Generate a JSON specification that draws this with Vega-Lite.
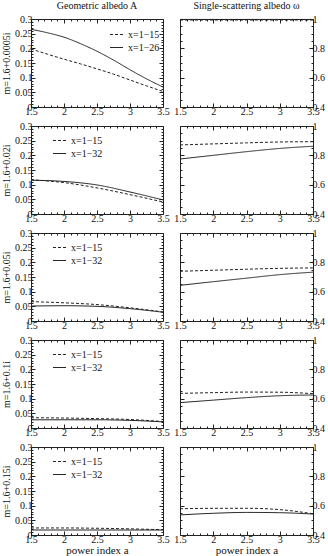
{
"$schema":"https://vega.github.io/schema/vega-lite/v6.json",
"padding":{"left":1,"right":0,"top":0,"bottom":0},
"background":"white",
"config":{
 "view":{"stroke":"#222","strokeWidth":1},
 "axis":{"domain":false,"grid":false,"tickColor":"#222","labelFont":"Liberation Serif","labelFontSize":10,"labelColor":"#111","titleFont":"Liberation Serif","titleFontSize":10,"titleFontWeight":"normal","titleColor":"#111","labelFlush":false,"labelOverlap":false,"labelBound":false},
 "legend":{"labelFont":"Liberation Serif","labelFontSize":10,"labelColor":"#111"}
},
"data":{"values":[
{"m":"0.0005","q":"A","s":"x=1−15","a":1.5,"v":0.198},{"m":"0.0005","q":"A","s":"x=1−15","a":1.75,"v":0.180},{"m":"0.0005","q":"A","s":"x=1−15","a":2,"v":0.163},{"m":"0.0005","q":"A","s":"x=1−15","a":2.25,"v":0.147},{"m":"0.0005","q":"A","s":"x=1−15","a":2.5,"v":0.130},{"m":"0.0005","q":"A","s":"x=1−15","a":2.75,"v":0.112},{"m":"0.0005","q":"A","s":"x=1−15","a":3,"v":0.092},{"m":"0.0005","q":"A","s":"x=1−15","a":3.25,"v":0.072},{"m":"0.0005","q":"A","s":"x=1−15","a":3.5,"v":0.053},
{"m":"0.0005","q":"A","s":"x=1−26","a":1.5,"v":0.265},{"m":"0.0005","q":"A","s":"x=1−26","a":1.75,"v":0.253},{"m":"0.0005","q":"A","s":"x=1−26","a":2,"v":0.238},{"m":"0.0005","q":"A","s":"x=1−26","a":2.25,"v":0.216},{"m":"0.0005","q":"A","s":"x=1−26","a":2.5,"v":0.190},{"m":"0.0005","q":"A","s":"x=1−26","a":2.75,"v":0.160},{"m":"0.0005","q":"A","s":"x=1−26","a":3,"v":0.127},{"m":"0.0005","q":"A","s":"x=1−26","a":3.25,"v":0.096},{"m":"0.0005","q":"A","s":"x=1−26","a":3.5,"v":0.068},
{"m":"0.0005","q":"w","s":"x=1−15","a":1.5,"v":0.993},{"m":"0.0005","q":"w","s":"x=1−15","a":2.5,"v":0.993},{"m":"0.0005","q":"w","s":"x=1−15","a":3.5,"v":0.993},
{"m":"0.0005","q":"w","s":"x=1−26","a":1.5,"v":0.997},{"m":"0.0005","q":"w","s":"x=1−26","a":2.5,"v":0.997},{"m":"0.0005","q":"w","s":"x=1−26","a":3.5,"v":0.997},
{"m":"0.02","q":"A","s":"x=1−15","a":1.5,"v":0.117},{"m":"0.02","q":"A","s":"x=1−15","a":2,"v":0.107},{"m":"0.02","q":"A","s":"x=1−15","a":2.5,"v":0.089},{"m":"0.02","q":"A","s":"x=1−15","a":3,"v":0.066},{"m":"0.02","q":"A","s":"x=1−15","a":3.5,"v":0.041},
{"m":"0.02","q":"A","s":"x=1−32","a":1.5,"v":0.115},{"m":"0.02","q":"A","s":"x=1−32","a":2,"v":0.111},{"m":"0.02","q":"A","s":"x=1−32","a":2.5,"v":0.099},{"m":"0.02","q":"A","s":"x=1−32","a":3,"v":0.075},{"m":"0.02","q":"A","s":"x=1−32","a":3.5,"v":0.048},
{"m":"0.02","q":"w","s":"x=1−15","a":1.5,"v":0.871},{"m":"0.02","q":"w","s":"x=1−15","a":2,"v":0.878},{"m":"0.02","q":"w","s":"x=1−15","a":2.5,"v":0.885},{"m":"0.02","q":"w","s":"x=1−15","a":3,"v":0.891},{"m":"0.02","q":"w","s":"x=1−15","a":3.5,"v":0.893},
{"m":"0.02","q":"w","s":"x=1−32","a":1.5,"v":0.775},{"m":"0.02","q":"w","s":"x=1−32","a":2,"v":0.800},{"m":"0.02","q":"w","s":"x=1−32","a":2.5,"v":0.825},{"m":"0.02","q":"w","s":"x=1−32","a":3,"v":0.847},{"m":"0.02","q":"w","s":"x=1−32","a":3.5,"v":0.862},
{"m":"0.05","q":"A","s":"x=1−15","a":1.5,"v":0.066},{"m":"0.05","q":"A","s":"x=1−15","a":2,"v":0.062},{"m":"0.05","q":"A","s":"x=1−15","a":2.5,"v":0.056},{"m":"0.05","q":"A","s":"x=1−15","a":3,"v":0.045},{"m":"0.05","q":"A","s":"x=1−15","a":3.5,"v":0.031},
{"m":"0.05","q":"A","s":"x=1−32","a":1.5,"v":0.051},{"m":"0.05","q":"A","s":"x=1−32","a":2,"v":0.052},{"m":"0.05","q":"A","s":"x=1−32","a":2.5,"v":0.050},{"m":"0.05","q":"A","s":"x=1−32","a":3,"v":0.042},{"m":"0.05","q":"A","s":"x=1−32","a":3.5,"v":0.030},
{"m":"0.05","q":"w","s":"x=1−15","a":1.5,"v":0.739},{"m":"0.05","q":"w","s":"x=1−15","a":2,"v":0.746},{"m":"0.05","q":"w","s":"x=1−15","a":2.5,"v":0.753},{"m":"0.05","q":"w","s":"x=1−15","a":3,"v":0.759},{"m":"0.05","q":"w","s":"x=1−15","a":3.5,"v":0.762},
{"m":"0.05","q":"w","s":"x=1−32","a":1.5,"v":0.643},{"m":"0.05","q":"w","s":"x=1−32","a":2,"v":0.668},{"m":"0.05","q":"w","s":"x=1−32","a":2.5,"v":0.692},{"m":"0.05","q":"w","s":"x=1−32","a":3,"v":0.716},{"m":"0.05","q":"w","s":"x=1−32","a":3.5,"v":0.733},
{"m":"0.1","q":"A","s":"x=1−15","a":1.5,"v":0.035},{"m":"0.1","q":"A","s":"x=1−15","a":2,"v":0.034},{"m":"0.1","q":"A","s":"x=1−15","a":2.5,"v":0.032},{"m":"0.1","q":"A","s":"x=1−15","a":3,"v":0.029},{"m":"0.1","q":"A","s":"x=1−15","a":3.5,"v":0.022},
{"m":"0.1","q":"A","s":"x=1−32","a":1.5,"v":0.028},{"m":"0.1","q":"A","s":"x=1−32","a":2,"v":0.028},{"m":"0.1","q":"A","s":"x=1−32","a":2.5,"v":0.028},{"m":"0.1","q":"A","s":"x=1−32","a":3,"v":0.026},{"m":"0.1","q":"A","s":"x=1−32","a":3.5,"v":0.021},
{"m":"0.1","q":"w","s":"x=1−15","a":1.5,"v":0.636},{"m":"0.1","q":"w","s":"x=1−15","a":2,"v":0.641},{"m":"0.1","q":"w","s":"x=1−15","a":2.5,"v":0.645},{"m":"0.1","q":"w","s":"x=1−15","a":3,"v":0.644},{"m":"0.1","q":"w","s":"x=1−15","a":3.5,"v":0.634},
{"m":"0.1","q":"w","s":"x=1−32","a":1.5,"v":0.573},{"m":"0.1","q":"w","s":"x=1−32","a":2,"v":0.590},{"m":"0.1","q":"w","s":"x=1−32","a":2.5,"v":0.607},{"m":"0.1","q":"w","s":"x=1−32","a":3,"v":0.620},{"m":"0.1","q":"w","s":"x=1−32","a":3.5,"v":0.625},
{"m":"0.15","q":"A","s":"x=1−15","a":1.5,"v":0.024},{"m":"0.15","q":"A","s":"x=1−15","a":2,"v":0.024},{"m":"0.15","q":"A","s":"x=1−15","a":2.5,"v":0.023},{"m":"0.15","q":"A","s":"x=1−15","a":3,"v":0.021},{"m":"0.15","q":"A","s":"x=1−15","a":3.5,"v":0.018},
{"m":"0.15","q":"A","s":"x=1−32","a":1.5,"v":0.017},{"m":"0.15","q":"A","s":"x=1−32","a":2,"v":0.017},{"m":"0.15","q":"A","s":"x=1−32","a":2.5,"v":0.017},{"m":"0.15","q":"A","s":"x=1−32","a":3,"v":0.017},{"m":"0.15","q":"A","s":"x=1−32","a":3.5,"v":0.017},
{"m":"0.15","q":"w","s":"x=1−15","a":1.5,"v":0.579},{"m":"0.15","q":"w","s":"x=1−15","a":2,"v":0.582},{"m":"0.15","q":"w","s":"x=1−15","a":2.5,"v":0.582},{"m":"0.15","q":"w","s":"x=1−15","a":3,"v":0.573},{"m":"0.15","q":"w","s":"x=1−15","a":3.5,"v":0.545},
{"m":"0.15","q":"w","s":"x=1−32","a":1.5,"v":0.537},{"m":"0.15","q":"w","s":"x=1−32","a":2,"v":0.548},{"m":"0.15","q":"w","s":"x=1−32","a":2.5,"v":0.554},{"m":"0.15","q":"w","s":"x=1−32","a":3,"v":0.552},{"m":"0.15","q":"w","s":"x=1−32","a":3.5,"v":0.543}
]},
"columns":2,
"spacing":{"row":19,"column":17},
"bounds":"flush",
"resolve":{"scale":{"x":"independent","y":"independent","strokeDash":"independent"},"legend":{"strokeDash":"independent"},"axis":{"x":"independent","y":"independent"}},
"concat":[
 {"width":132,"height":88,"title":{"text":"Geometric albedo A","fontSize":10,"font":"Liberation Serif","fontWeight":"normal","color":"#111","offset":3},
  "transform":[{"filter":"datum.m=='0.0005' && datum.q=='A'"}],
  "layer":[
   {"mark":{"type":"line","color":"#222","strokeWidth":1,"interpolate":"monotone"},
    "encoding":{
     "x":{"field":"a","type":"quantitative","scale":{"domain":[1.5,3.5],"nice":false,"zero":false},"axis":{"orient":"bottom","values":[1.5,1.6,1.7,1.8,1.9,2,2.1,2.2,2.3,2.4,2.5,2.6,2.7,2.8,2.9,3,3.1,3.2,3.3,3.4,3.5],"format":"~g","labelExpr":"abs(datum.value*2-round(datum.value*2))<0.001 ? datum.label : ''","tickSize":{"condition":{"test":"abs(datum.value*2-round(datum.value*2))<0.001","value":-4},"value":-2},"labelPadding":3,"title":null}},
     "y":{"field":"v","type":"quantitative","scale":{"domain":[0,0.3],"nice":false},"axis":{"orient":"left","values":[0,0.01,0.02,0.03,0.04,0.05,0.06,0.07,0.08,0.09,0.1,0.11,0.12,0.13,0.14,0.15,0.16,0.17,0.18,0.19,0.2,0.21,0.22,0.23,0.24,0.25,0.26,0.27,0.28,0.29,0.3],"format":"~g","labelExpr":"abs(datum.value*20-round(datum.value*20))<0.001 ? datum.label : ''","tickSize":{"condition":{"test":"abs(datum.value*20-round(datum.value*20))<0.001","value":-4},"value":-2},"labelPadding":3,"title":"m=1.6+0.0005i","titlePadding":3}},
     "strokeDash":{"field":"s","type":"nominal","scale":{"domain":["x=1−15","x=1−26"],"range":[[3,2],[1,0]]},"legend":{"orient":"none","legendX":78,"legendY":8,"title":null,"symbolType":"stroke","symbolStrokeColor":"#222","symbolStrokeWidth":1,"symbolSize":170,"rowPadding":-2,"labelOffset":4}}
    }},
   {"mark":{"type":"line","opacity":0,"strokeWidth":0,"color":"transparent"},
    "encoding":{
     "x":{"field":"a","type":"quantitative","axis":{"orient":"top","values":[1.5,1.6,1.7,1.8,1.9,2,2.1,2.2,2.3,2.4,2.5,2.6,2.7,2.8,2.9,3,3.1,3.2,3.3,3.4,3.5],"labels":false,"tickSize":{"condition":{"test":"abs(datum.value*2-round(datum.value*2))<0.001","value":-4},"value":-2},"title":null}},
     "y":{"field":"v","type":"quantitative","axis":{"orient":"right","values":[0,0.01,0.02,0.03,0.04,0.05,0.06,0.07,0.08,0.09,0.1,0.11,0.12,0.13,0.14,0.15,0.16,0.17,0.18,0.19,0.2,0.21,0.22,0.23,0.24,0.25,0.26,0.27,0.28,0.29,0.3],"labels":false,"tickSize":{"condition":{"test":"abs(datum.value*20-round(datum.value*20))<0.001","value":-4},"value":-2},"title":null}},
     "detail":{"field":"s"}
    }}
  ],
  "resolve":{"axis":{"x":"independent","y":"independent"}}
 },
 {"width":133,"height":88,"title":{"text":"Single-scattering albedo ω","fontSize":10,"font":"Liberation Serif","fontWeight":"normal","color":"#111","offset":3},
  "transform":[{"filter":"datum.m=='0.0005' && datum.q=='w'"}],
  "layer":[
   {"mark":{"type":"line","color":"#222","strokeWidth":1,"interpolate":"monotone"},
    "encoding":{
     "x":{"field":"a","type":"quantitative","scale":{"domain":[1.5,3.5],"nice":false,"zero":false},"axis":{"orient":"bottom","values":[1.5,1.6,1.7,1.8,1.9,2,2.1,2.2,2.3,2.4,2.5,2.6,2.7,2.8,2.9,3,3.1,3.2,3.3,3.4,3.5],"format":"~g","labelExpr":"abs(datum.value*2-round(datum.value*2))<0.001 ? datum.label : ''","tickSize":{"condition":{"test":"abs(datum.value*2-round(datum.value*2))<0.001","value":-4},"value":-2},"labelPadding":3,"title":null}},
     "y":{"field":"v","type":"quantitative","scale":{"domain":[0.4,1],"nice":false,"zero":false},"axis":{"orient":"right","values":[0.4,0.45,0.5,0.55,0.6,0.65,0.7,0.75,0.8,0.85,0.9,0.95,1],"format":"~g","labelExpr":"abs(datum.value*5-round(datum.value*5))<0.001 ? datum.label : ''","tickSize":{"condition":{"test":"abs(datum.value*5-round(datum.value*5))<0.001","value":-4},"value":-2},"labelPadding":3,"title":null}},
     "strokeDash":{"field":"s","type":"nominal","scale":{"domain":["x=1−15","x=1−26"],"range":[[3,2],[1,0]]},"legend":null}
    }},
   {"mark":{"type":"line","opacity":0,"strokeWidth":0,"color":"transparent"},
    "encoding":{
     "x":{"field":"a","type":"quantitative","axis":{"orient":"top","values":[1.5,1.6,1.7,1.8,1.9,2,2.1,2.2,2.3,2.4,2.5,2.6,2.7,2.8,2.9,3,3.1,3.2,3.3,3.4,3.5],"labels":false,"tickSize":{"condition":{"test":"abs(datum.value*2-round(datum.value*2))<0.001","value":-4},"value":-2},"title":null}},
     "y":{"field":"v","type":"quantitative","axis":{"orient":"left","values":[0.4,0.45,0.5,0.55,0.6,0.65,0.7,0.75,0.8,0.85,0.9,0.95,1],"labels":false,"tickSize":{"condition":{"test":"abs(datum.value*5-round(datum.value*5))<0.001","value":-4},"value":-2},"title":null}},
     "detail":{"field":"s"}
    }}
  ],
  "resolve":{"axis":{"x":"independent","y":"independent"}}
 },
 {"width":132,"height":88,
  "transform":[{"filter":"datum.m=='0.02' && datum.q=='A'"}],
  "layer":[
   {"mark":{"type":"line","color":"#222","strokeWidth":1,"interpolate":"monotone"},
    "encoding":{
     "x":{"field":"a","type":"quantitative","scale":{"domain":[1.5,3.5],"nice":false,"zero":false},"axis":{"orient":"bottom","values":[1.5,1.6,1.7,1.8,1.9,2,2.1,2.2,2.3,2.4,2.5,2.6,2.7,2.8,2.9,3,3.1,3.2,3.3,3.4,3.5],"format":"~g","labelExpr":"abs(datum.value*2-round(datum.value*2))<0.001 ? datum.label : ''","tickSize":{"condition":{"test":"abs(datum.value*2-round(datum.value*2))<0.001","value":-4},"value":-2},"labelPadding":3,"title":null}},
     "y":{"field":"v","type":"quantitative","scale":{"domain":[0,0.3],"nice":false},"axis":{"orient":"left","values":[0,0.01,0.02,0.03,0.04,0.05,0.06,0.07,0.08,0.09,0.1,0.11,0.12,0.13,0.14,0.15,0.16,0.17,0.18,0.19,0.2,0.21,0.22,0.23,0.24,0.25,0.26,0.27,0.28,0.29,0.3],"format":"~g","labelExpr":"abs(datum.value*20-round(datum.value*20))<0.001 ? datum.label : ''","tickSize":{"condition":{"test":"abs(datum.value*20-round(datum.value*20))<0.001","value":-4},"value":-2},"labelPadding":3,"title":"m=1.6+0.02i","titlePadding":3}},
     "strokeDash":{"field":"s","type":"nominal","scale":{"domain":["x=1−15","x=1−32"],"range":[[3,2],[1,0]]},"legend":{"orient":"none","legendX":21,"legendY":7,"title":null,"symbolType":"stroke","symbolStrokeColor":"#222","symbolStrokeWidth":1,"symbolSize":170,"rowPadding":-2,"labelOffset":4}}
    }},
   {"mark":{"type":"line","opacity":0,"strokeWidth":0,"color":"transparent"},
    "encoding":{
     "x":{"field":"a","type":"quantitative","axis":{"orient":"top","values":[1.5,1.6,1.7,1.8,1.9,2,2.1,2.2,2.3,2.4,2.5,2.6,2.7,2.8,2.9,3,3.1,3.2,3.3,3.4,3.5],"labels":false,"tickSize":{"condition":{"test":"abs(datum.value*2-round(datum.value*2))<0.001","value":-4},"value":-2},"title":null}},
     "y":{"field":"v","type":"quantitative","axis":{"orient":"right","values":[0,0.01,0.02,0.03,0.04,0.05,0.06,0.07,0.08,0.09,0.1,0.11,0.12,0.13,0.14,0.15,0.16,0.17,0.18,0.19,0.2,0.21,0.22,0.23,0.24,0.25,0.26,0.27,0.28,0.29,0.3],"labels":false,"tickSize":{"condition":{"test":"abs(datum.value*20-round(datum.value*20))<0.001","value":-4},"value":-2},"title":null}},
     "detail":{"field":"s"}
    }}
  ],
  "resolve":{"axis":{"x":"independent","y":"independent"}}
 },
 {"width":133,"height":88,
  "transform":[{"filter":"datum.m=='0.02' && datum.q=='w'"}],
  "layer":[
   {"mark":{"type":"line","color":"#222","strokeWidth":1,"interpolate":"monotone"},
    "encoding":{
     "x":{"field":"a","type":"quantitative","scale":{"domain":[1.5,3.5],"nice":false,"zero":false},"axis":{"orient":"bottom","values":[1.5,1.6,1.7,1.8,1.9,2,2.1,2.2,2.3,2.4,2.5,2.6,2.7,2.8,2.9,3,3.1,3.2,3.3,3.4,3.5],"format":"~g","labelExpr":"abs(datum.value*2-round(datum.value*2))<0.001 ? datum.label : ''","tickSize":{"condition":{"test":"abs(datum.value*2-round(datum.value*2))<0.001","value":-4},"value":-2},"labelPadding":3,"title":null}},
     "y":{"field":"v","type":"quantitative","scale":{"domain":[0.4,1],"nice":false,"zero":false},"axis":{"orient":"right","values":[0.4,0.45,0.5,0.55,0.6,0.65,0.7,0.75,0.8,0.85,0.9,0.95,1],"format":"~g","labelExpr":"abs(datum.value*5-round(datum.value*5))<0.001 ? datum.label : ''","tickSize":{"condition":{"test":"abs(datum.value*5-round(datum.value*5))<0.001","value":-4},"value":-2},"labelPadding":3,"title":null}},
     "strokeDash":{"field":"s","type":"nominal","scale":{"domain":["x=1−15","x=1−32"],"range":[[3,2],[1,0]]},"legend":null}
    }},
   {"mark":{"type":"line","opacity":0,"strokeWidth":0,"color":"transparent"},
    "encoding":{
     "x":{"field":"a","type":"quantitative","axis":{"orient":"top","values":[1.5,1.6,1.7,1.8,1.9,2,2.1,2.2,2.3,2.4,2.5,2.6,2.7,2.8,2.9,3,3.1,3.2,3.3,3.4,3.5],"labels":false,"tickSize":{"condition":{"test":"abs(datum.value*2-round(datum.value*2))<0.001","value":-4},"value":-2},"title":null}},
     "y":{"field":"v","type":"quantitative","axis":{"orient":"left","values":[0.4,0.45,0.5,0.55,0.6,0.65,0.7,0.75,0.8,0.85,0.9,0.95,1],"labels":false,"tickSize":{"condition":{"test":"abs(datum.value*5-round(datum.value*5))<0.001","value":-4},"value":-2},"title":null}},
     "detail":{"field":"s"}
    }}
  ],
  "resolve":{"axis":{"x":"independent","y":"independent"}}
 },
 {"width":132,"height":88,
  "transform":[{"filter":"datum.m=='0.05' && datum.q=='A'"}],
  "layer":[
   {"mark":{"type":"line","color":"#222","strokeWidth":1,"interpolate":"monotone"},
    "encoding":{
     "x":{"field":"a","type":"quantitative","scale":{"domain":[1.5,3.5],"nice":false,"zero":false},"axis":{"orient":"bottom","values":[1.5,1.6,1.7,1.8,1.9,2,2.1,2.2,2.3,2.4,2.5,2.6,2.7,2.8,2.9,3,3.1,3.2,3.3,3.4,3.5],"format":"~g","labelExpr":"abs(datum.value*2-round(datum.value*2))<0.001 ? datum.label : ''","tickSize":{"condition":{"test":"abs(datum.value*2-round(datum.value*2))<0.001","value":-4},"value":-2},"labelPadding":3,"title":null}},
     "y":{"field":"v","type":"quantitative","scale":{"domain":[0,0.3],"nice":false},"axis":{"orient":"left","values":[0,0.01,0.02,0.03,0.04,0.05,0.06,0.07,0.08,0.09,0.1,0.11,0.12,0.13,0.14,0.15,0.16,0.17,0.18,0.19,0.2,0.21,0.22,0.23,0.24,0.25,0.26,0.27,0.28,0.29,0.3],"format":"~g","labelExpr":"abs(datum.value*20-round(datum.value*20))<0.001 ? datum.label : ''","tickSize":{"condition":{"test":"abs(datum.value*20-round(datum.value*20))<0.001","value":-4},"value":-2},"labelPadding":3,"title":"m=1.6+0.05i","titlePadding":3}},
     "strokeDash":{"field":"s","type":"nominal","scale":{"domain":["x=1−15","x=1−32"],"range":[[3,2],[1,0]]},"legend":{"orient":"none","legendX":21,"legendY":7,"title":null,"symbolType":"stroke","symbolStrokeColor":"#222","symbolStrokeWidth":1,"symbolSize":170,"rowPadding":-2,"labelOffset":4}}
    }},
   {"mark":{"type":"line","opacity":0,"strokeWidth":0,"color":"transparent"},
    "encoding":{
     "x":{"field":"a","type":"quantitative","axis":{"orient":"top","values":[1.5,1.6,1.7,1.8,1.9,2,2.1,2.2,2.3,2.4,2.5,2.6,2.7,2.8,2.9,3,3.1,3.2,3.3,3.4,3.5],"labels":false,"tickSize":{"condition":{"test":"abs(datum.value*2-round(datum.value*2))<0.001","value":-4},"value":-2},"title":null}},
     "y":{"field":"v","type":"quantitative","axis":{"orient":"right","values":[0,0.01,0.02,0.03,0.04,0.05,0.06,0.07,0.08,0.09,0.1,0.11,0.12,0.13,0.14,0.15,0.16,0.17,0.18,0.19,0.2,0.21,0.22,0.23,0.24,0.25,0.26,0.27,0.28,0.29,0.3],"labels":false,"tickSize":{"condition":{"test":"abs(datum.value*20-round(datum.value*20))<0.001","value":-4},"value":-2},"title":null}},
     "detail":{"field":"s"}
    }}
  ],
  "resolve":{"axis":{"x":"independent","y":"independent"}}
 },
 {"width":133,"height":88,
  "transform":[{"filter":"datum.m=='0.05' && datum.q=='w'"}],
  "layer":[
   {"mark":{"type":"line","color":"#222","strokeWidth":1,"interpolate":"monotone"},
    "encoding":{
     "x":{"field":"a","type":"quantitative","scale":{"domain":[1.5,3.5],"nice":false,"zero":false},"axis":{"orient":"bottom","values":[1.5,1.6,1.7,1.8,1.9,2,2.1,2.2,2.3,2.4,2.5,2.6,2.7,2.8,2.9,3,3.1,3.2,3.3,3.4,3.5],"format":"~g","labelExpr":"abs(datum.value*2-round(datum.value*2))<0.001 ? datum.label : ''","tickSize":{"condition":{"test":"abs(datum.value*2-round(datum.value*2))<0.001","value":-4},"value":-2},"labelPadding":3,"title":null}},
     "y":{"field":"v","type":"quantitative","scale":{"domain":[0.4,1],"nice":false,"zero":false},"axis":{"orient":"right","values":[0.4,0.45,0.5,0.55,0.6,0.65,0.7,0.75,0.8,0.85,0.9,0.95,1],"format":"~g","labelExpr":"abs(datum.value*5-round(datum.value*5))<0.001 ? datum.label : ''","tickSize":{"condition":{"test":"abs(datum.value*5-round(datum.value*5))<0.001","value":-4},"value":-2},"labelPadding":3,"title":null}},
     "strokeDash":{"field":"s","type":"nominal","scale":{"domain":["x=1−15","x=1−32"],"range":[[3,2],[1,0]]},"legend":null}
    }},
   {"mark":{"type":"line","opacity":0,"strokeWidth":0,"color":"transparent"},
    "encoding":{
     "x":{"field":"a","type":"quantitative","axis":{"orient":"top","values":[1.5,1.6,1.7,1.8,1.9,2,2.1,2.2,2.3,2.4,2.5,2.6,2.7,2.8,2.9,3,3.1,3.2,3.3,3.4,3.5],"labels":false,"tickSize":{"condition":{"test":"abs(datum.value*2-round(datum.value*2))<0.001","value":-4},"value":-2},"title":null}},
     "y":{"field":"v","type":"quantitative","axis":{"orient":"left","values":[0.4,0.45,0.5,0.55,0.6,0.65,0.7,0.75,0.8,0.85,0.9,0.95,1],"labels":false,"tickSize":{"condition":{"test":"abs(datum.value*5-round(datum.value*5))<0.001","value":-4},"value":-2},"title":null}},
     "detail":{"field":"s"}
    }}
  ],
  "resolve":{"axis":{"x":"independent","y":"independent"}}
 },
 {"width":132,"height":88,
  "transform":[{"filter":"datum.m=='0.1' && datum.q=='A'"}],
  "layer":[
   {"mark":{"type":"line","color":"#222","strokeWidth":1,"interpolate":"monotone"},
    "encoding":{
     "x":{"field":"a","type":"quantitative","scale":{"domain":[1.5,3.5],"nice":false,"zero":false},"axis":{"orient":"bottom","values":[1.5,1.6,1.7,1.8,1.9,2,2.1,2.2,2.3,2.4,2.5,2.6,2.7,2.8,2.9,3,3.1,3.2,3.3,3.4,3.5],"format":"~g","labelExpr":"abs(datum.value*2-round(datum.value*2))<0.001 ? datum.label : ''","tickSize":{"condition":{"test":"abs(datum.value*2-round(datum.value*2))<0.001","value":-4},"value":-2},"labelPadding":3,"title":null}},
     "y":{"field":"v","type":"quantitative","scale":{"domain":[0,0.3],"nice":false},"axis":{"orient":"left","values":[0,0.01,0.02,0.03,0.04,0.05,0.06,0.07,0.08,0.09,0.1,0.11,0.12,0.13,0.14,0.15,0.16,0.17,0.18,0.19,0.2,0.21,0.22,0.23,0.24,0.25,0.26,0.27,0.28,0.29,0.3],"format":"~g","labelExpr":"abs(datum.value*20-round(datum.value*20))<0.001 ? datum.label : ''","tickSize":{"condition":{"test":"abs(datum.value*20-round(datum.value*20))<0.001","value":-4},"value":-2},"labelPadding":3,"title":"m=1.6+0.1i","titlePadding":3}},
     "strokeDash":{"field":"s","type":"nominal","scale":{"domain":["x=1−15","x=1−32"],"range":[[3,2],[1,0]]},"legend":{"orient":"none","legendX":21,"legendY":7,"title":null,"symbolType":"stroke","symbolStrokeColor":"#222","symbolStrokeWidth":1,"symbolSize":170,"rowPadding":-2,"labelOffset":4}}
    }},
   {"mark":{"type":"line","opacity":0,"strokeWidth":0,"color":"transparent"},
    "encoding":{
     "x":{"field":"a","type":"quantitative","axis":{"orient":"top","values":[1.5,1.6,1.7,1.8,1.9,2,2.1,2.2,2.3,2.4,2.5,2.6,2.7,2.8,2.9,3,3.1,3.2,3.3,3.4,3.5],"labels":false,"tickSize":{"condition":{"test":"abs(datum.value*2-round(datum.value*2))<0.001","value":-4},"value":-2},"title":null}},
     "y":{"field":"v","type":"quantitative","axis":{"orient":"right","values":[0,0.01,0.02,0.03,0.04,0.05,0.06,0.07,0.08,0.09,0.1,0.11,0.12,0.13,0.14,0.15,0.16,0.17,0.18,0.19,0.2,0.21,0.22,0.23,0.24,0.25,0.26,0.27,0.28,0.29,0.3],"labels":false,"tickSize":{"condition":{"test":"abs(datum.value*20-round(datum.value*20))<0.001","value":-4},"value":-2},"title":null}},
     "detail":{"field":"s"}
    }}
  ],
  "resolve":{"axis":{"x":"independent","y":"independent"}}
 },
 {"width":133,"height":88,
  "transform":[{"filter":"datum.m=='0.1' && datum.q=='w'"}],
  "layer":[
   {"mark":{"type":"line","color":"#222","strokeWidth":1,"interpolate":"monotone"},
    "encoding":{
     "x":{"field":"a","type":"quantitative","scale":{"domain":[1.5,3.5],"nice":false,"zero":false},"axis":{"orient":"bottom","values":[1.5,1.6,1.7,1.8,1.9,2,2.1,2.2,2.3,2.4,2.5,2.6,2.7,2.8,2.9,3,3.1,3.2,3.3,3.4,3.5],"format":"~g","labelExpr":"abs(datum.value*2-round(datum.value*2))<0.001 ? datum.label : ''","tickSize":{"condition":{"test":"abs(datum.value*2-round(datum.value*2))<0.001","value":-4},"value":-2},"labelPadding":3,"title":null}},
     "y":{"field":"v","type":"quantitative","scale":{"domain":[0.4,1],"nice":false,"zero":false},"axis":{"orient":"right","values":[0.4,0.45,0.5,0.55,0.6,0.65,0.7,0.75,0.8,0.85,0.9,0.95,1],"format":"~g","labelExpr":"abs(datum.value*5-round(datum.value*5))<0.001 ? datum.label : ''","tickSize":{"condition":{"test":"abs(datum.value*5-round(datum.value*5))<0.001","value":-4},"value":-2},"labelPadding":3,"title":null}},
     "strokeDash":{"field":"s","type":"nominal","scale":{"domain":["x=1−15","x=1−32"],"range":[[3,2],[1,0]]},"legend":null}
    }},
   {"mark":{"type":"line","opacity":0,"strokeWidth":0,"color":"transparent"},
    "encoding":{
     "x":{"field":"a","type":"quantitative","axis":{"orient":"top","values":[1.5,1.6,1.7,1.8,1.9,2,2.1,2.2,2.3,2.4,2.5,2.6,2.7,2.8,2.9,3,3.1,3.2,3.3,3.4,3.5],"labels":false,"tickSize":{"condition":{"test":"abs(datum.value*2-round(datum.value*2))<0.001","value":-4},"value":-2},"title":null}},
     "y":{"field":"v","type":"quantitative","axis":{"orient":"left","values":[0.4,0.45,0.5,0.55,0.6,0.65,0.7,0.75,0.8,0.85,0.9,0.95,1],"labels":false,"tickSize":{"condition":{"test":"abs(datum.value*5-round(datum.value*5))<0.001","value":-4},"value":-2},"title":null}},
     "detail":{"field":"s"}
    }}
  ],
  "resolve":{"axis":{"x":"independent","y":"independent"}}
 },
 {"width":132,"height":88,
  "transform":[{"filter":"datum.m=='0.15' && datum.q=='A'"}],
  "layer":[
   {"mark":{"type":"line","color":"#222","strokeWidth":1,"interpolate":"monotone"},
    "encoding":{
     "x":{"field":"a","type":"quantitative","scale":{"domain":[1.5,3.5],"nice":false,"zero":false},"axis":{"orient":"bottom","values":[1.5,1.6,1.7,1.8,1.9,2,2.1,2.2,2.3,2.4,2.5,2.6,2.7,2.8,2.9,3,3.1,3.2,3.3,3.4,3.5],"format":"~g","labelExpr":"abs(datum.value*2-round(datum.value*2))<0.001 ? datum.label : ''","tickSize":{"condition":{"test":"abs(datum.value*2-round(datum.value*2))<0.001","value":-4},"value":-2},"labelPadding":3,"title":"power index a","titleFontSize":11,"titlePadding":-2}},
     "y":{"field":"v","type":"quantitative","scale":{"domain":[0,0.3],"nice":false},"axis":{"orient":"left","values":[0,0.01,0.02,0.03,0.04,0.05,0.06,0.07,0.08,0.09,0.1,0.11,0.12,0.13,0.14,0.15,0.16,0.17,0.18,0.19,0.2,0.21,0.22,0.23,0.24,0.25,0.26,0.27,0.28,0.29,0.3],"format":"~g","labelExpr":"abs(datum.value*20-round(datum.value*20))<0.001 ? datum.label : ''","tickSize":{"condition":{"test":"abs(datum.value*20-round(datum.value*20))<0.001","value":-4},"value":-2},"labelPadding":3,"title":"m=1.6+0.15i","titlePadding":3}},
     "strokeDash":{"field":"s","type":"nominal","scale":{"domain":["x=1−15","x=1−32"],"range":[[3,2],[1,0]]},"legend":{"orient":"none","legendX":21,"legendY":7,"title":null,"symbolType":"stroke","symbolStrokeColor":"#222","symbolStrokeWidth":1,"symbolSize":170,"rowPadding":-2,"labelOffset":4}}
    }},
   {"mark":{"type":"line","opacity":0,"strokeWidth":0,"color":"transparent"},
    "encoding":{
     "x":{"field":"a","type":"quantitative","axis":{"orient":"top","values":[1.5,1.6,1.7,1.8,1.9,2,2.1,2.2,2.3,2.4,2.5,2.6,2.7,2.8,2.9,3,3.1,3.2,3.3,3.4,3.5],"labels":false,"tickSize":{"condition":{"test":"abs(datum.value*2-round(datum.value*2))<0.001","value":-4},"value":-2},"title":null}},
     "y":{"field":"v","type":"quantitative","axis":{"orient":"right","values":[0,0.01,0.02,0.03,0.04,0.05,0.06,0.07,0.08,0.09,0.1,0.11,0.12,0.13,0.14,0.15,0.16,0.17,0.18,0.19,0.2,0.21,0.22,0.23,0.24,0.25,0.26,0.27,0.28,0.29,0.3],"labels":false,"tickSize":{"condition":{"test":"abs(datum.value*20-round(datum.value*20))<0.001","value":-4},"value":-2},"title":null}},
     "detail":{"field":"s"}
    }}
  ],
  "resolve":{"axis":{"x":"independent","y":"independent"}}
 },
 {"width":133,"height":88,
  "transform":[{"filter":"datum.m=='0.15' && datum.q=='w'"}],
  "layer":[
   {"mark":{"type":"line","color":"#222","strokeWidth":1,"interpolate":"monotone"},
    "encoding":{
     "x":{"field":"a","type":"quantitative","scale":{"domain":[1.5,3.5],"nice":false,"zero":false},"axis":{"orient":"bottom","values":[1.5,1.6,1.7,1.8,1.9,2,2.1,2.2,2.3,2.4,2.5,2.6,2.7,2.8,2.9,3,3.1,3.2,3.3,3.4,3.5],"format":"~g","labelExpr":"abs(datum.value*2-round(datum.value*2))<0.001 ? datum.label : ''","tickSize":{"condition":{"test":"abs(datum.value*2-round(datum.value*2))<0.001","value":-4},"value":-2},"labelPadding":3,"title":"power index a","titleFontSize":11,"titlePadding":-2}},
     "y":{"field":"v","type":"quantitative","scale":{"domain":[0.4,1],"nice":false,"zero":false},"axis":{"orient":"right","values":[0.4,0.45,0.5,0.55,0.6,0.65,0.7,0.75,0.8,0.85,0.9,0.95,1],"format":"~g","labelExpr":"abs(datum.value*5-round(datum.value*5))<0.001 ? datum.label : ''","tickSize":{"condition":{"test":"abs(datum.value*5-round(datum.value*5))<0.001","value":-4},"value":-2},"labelPadding":3,"title":null}},
     "strokeDash":{"field":"s","type":"nominal","scale":{"domain":["x=1−15","x=1−32"],"range":[[3,2],[1,0]]},"legend":null}
    }},
   {"mark":{"type":"line","opacity":0,"strokeWidth":0,"color":"transparent"},
    "encoding":{
     "x":{"field":"a","type":"quantitative","axis":{"orient":"top","values":[1.5,1.6,1.7,1.8,1.9,2,2.1,2.2,2.3,2.4,2.5,2.6,2.7,2.8,2.9,3,3.1,3.2,3.3,3.4,3.5],"labels":false,"tickSize":{"condition":{"test":"abs(datum.value*2-round(datum.value*2))<0.001","value":-4},"value":-2},"title":null}},
     "y":{"field":"v","type":"quantitative","axis":{"orient":"left","values":[0.4,0.45,0.5,0.55,0.6,0.65,0.7,0.75,0.8,0.85,0.9,0.95,1],"labels":false,"tickSize":{"condition":{"test":"abs(datum.value*5-round(datum.value*5))<0.001","value":-4},"value":-2},"title":null}},
     "detail":{"field":"s"}
    }}
  ],
  "resolve":{"axis":{"x":"independent","y":"independent"}}
 }
]
}
